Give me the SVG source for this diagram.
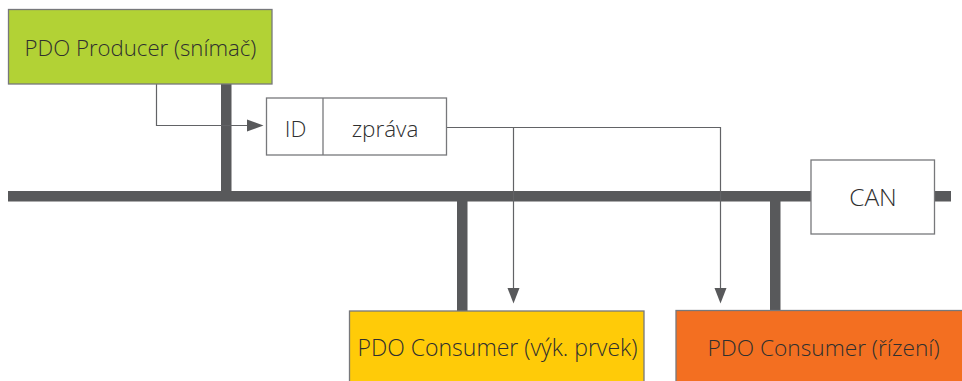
<svg xmlns="http://www.w3.org/2000/svg" width="962" height="381" viewBox="0 0 962 381">
<style>
.box{stroke:#77787b;stroke-width:1.3}
.bus{fill:#58595b}
.wire{fill:none;stroke:#626366;stroke-width:1.2}
.ah{fill:#58595b}
text{font-family:"Open Sans","Noto Sans","Liberation Sans",sans-serif;font-weight:300;font-size:22.5px;fill:#2f2f2f;text-anchor:middle}
</style>
<g id="connectors">
<rect class="bus" x="8" y="191" width="803" height="10.5"/>
<rect class="bus" x="934" y="191" width="17" height="10.5"/>
<rect class="bus" x="221" y="84" width="10.5" height="107"/>
<rect class="bus" x="457" y="201" width="10.5" height="110"/>
<rect class="bus" x="770" y="201" width="10.5" height="110"/>
<path class="wire" d="M156.5 84V125.5H248"/>
<polygon class="ah" points="247,119.500 263.500,125.500 247,131.500"/>
<path class="wire" d="M446 127.500H720.500V289M513.500 127.500V289"/>
<polygon class="ah" points="507.500,288 519.500,288 513.500,303.500"/>
<polygon class="ah" points="714.500,288 726.500,288 720.500,303.500"/>
</g>
<g id="producer"><rect class="box" x="8.500" y="9.500" width="263.500" height="74.500" fill="#b2d235"/><text x="140.500" y="56" style="font-size:22.2px">PDO Producer (snímač)</text></g>
<g id="message"><rect class="box" x="266.500" y="98" width="180" height="57" fill="#fff"/><path class="box" d="M323 98V155" fill="none"/><text x="295.500" y="137">ID</text><text x="385" y="137">zpráva</text></g>
<g id="can"><rect class="box" x="811" y="160" width="123.500" height="74" fill="#fff"/><text x="873" y="206" style="font-size:24.5px">CAN</text></g>
<g id="consumer-actuator"><rect class="box" x="349.500" y="311" width="294.500" height="80" fill="#ffcb08"/><text x="497.500" y="356" style="font-size:23px">PDO Consumer (výk. prvek)</text></g>
<g id="consumer-control"><rect class="box" x="676" y="310.500" width="300" height="80" fill="#f36f21"/><text x="823.500" y="356" style="font-size:22.7px">PDO Consumer (řízení)</text></g>
</svg>
